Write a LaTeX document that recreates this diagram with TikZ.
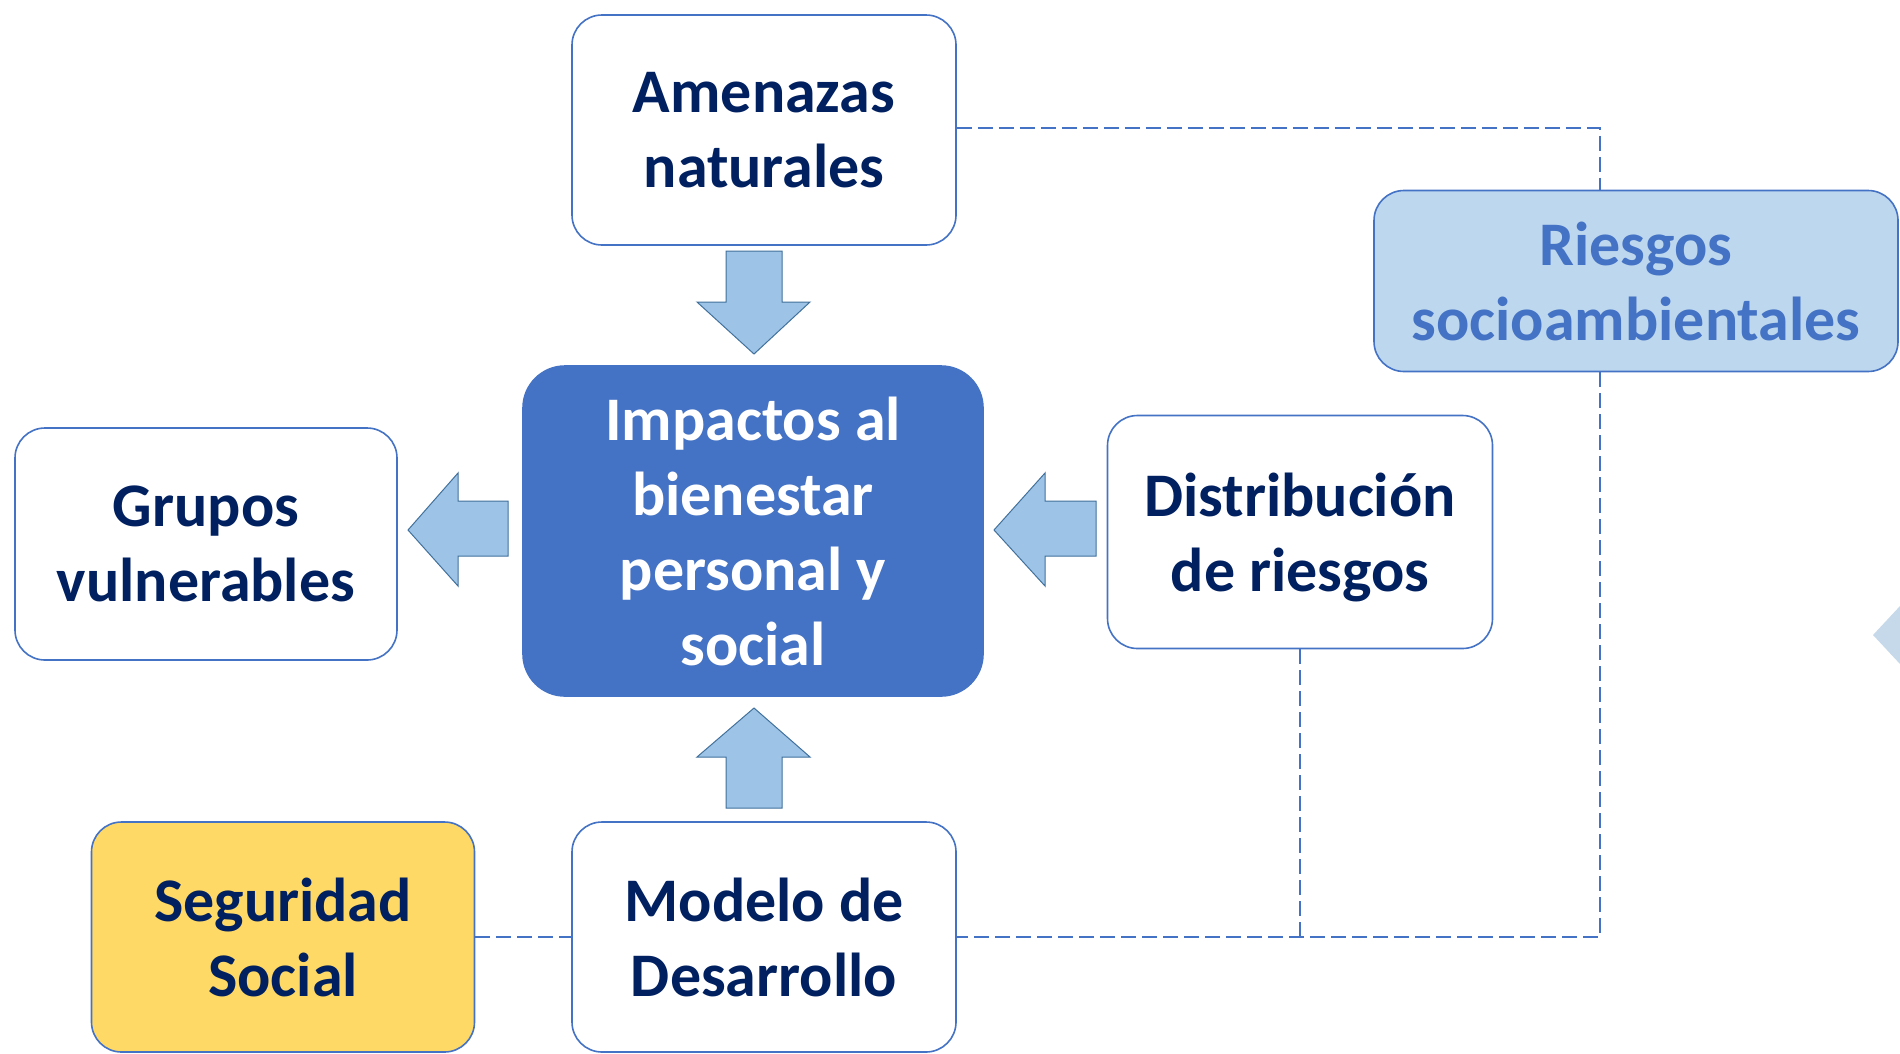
\documentclass[tikz,border=0pt]{standalone}
\usepackage{fontspec}
\setmainfont{Carlito}
\definecolor{navy}{HTML}{002060}
\definecolor{accent}{HTML}{4472C4}
\definecolor{arrowfill}{HTML}{9DC3E6}
\definecolor{arrowline}{HTML}{41719C}
\definecolor{lightfill}{HTML}{BDD7EE}
\definecolor{gold}{HTML}{FFD966}
\definecolor{edgeshape}{HTML}{C5D9EA}
\tikzset{
  box/.style={draw=accent, line width=1.6pt, rounded corners=30pt, fill=white,
    align=center, inner sep=0pt, text=navy,
    font=\fontsize{62}{75}\selectfont\bfseries},
  dashlink/.style={draw=accent, line width=2.2pt, dash pattern=on 15pt off 6pt},
  blockarrow/.style={fill=arrowfill, draw=arrowline, line width=1pt},
}
\begin{document}
\begin{tikzpicture}[x=1pt,y=-1pt]
\useasboundingbox (0,0) rectangle (1900,1053);
\fill[white] (0,0) rectangle (1900,1053);

% partial shape at right edge
\fill[edgeshape] (1900,606) -- (1873,635) -- (1900,664) -- cycle;

\coordinate (c1) at (1600,128);
\coordinate (c2) at (1600,937);
\coordinate (c3) at (1300,937);

% nodes
\node[box, minimum width=384pt, minimum height=230pt] (amen) at (764,130) {Amenazas\\naturales};
\node[box, minimum width=460pt, minimum height=330pt, rounded corners=42pt,
      fill=accent, draw=accent, text=white] (imp) at (753,531) {Impactos al\\bienestar\\personal y\\social};
\node[box, minimum width=382pt, minimum height=232pt] (grup) at (206,544) {Grupos\\vulnerables};
\node[box, minimum width=385pt, minimum height=233pt] (dist) at (1300,532) {};
\node[text=navy, align=center, inner sep=0pt, font=\fontsize{62}{75}\selectfont\bfseries]
      (distlbl) at (1300,537) {Distribución\\de riesgos};
\node[box, minimum width=524pt, minimum height=181pt, fill=lightfill, text=accent] (ries) at (1636,281) {Riesgos\\socioambientales};
\node[box, minimum width=383pt, minimum height=230pt, fill=gold] (seg) at (283,937) {Seguridad\\Social};
\node[box, minimum width=384pt, minimum height=230pt] (mod) at (764,937) {Modelo de\\Desarrollo};

% dashed connectors
\draw[dashlink] (amen.east |- c1) -- (c1) -- (c1 |- ries.north);
\draw[dashlink] (ries.south -| c2) -- (c2) -- (mod.east |- c2);
\draw[dashlink] (dist.south -| c3) -- (c3);
\draw[dashlink] (seg.east) -- (mod.west);

% block arrows
\draw[blockarrow] (726,251) -- (782,251) -- (782,302) -- (810,302) -- (754,354)
  -- (697,302) -- (726,302) -- cycle;
\draw[blockarrow] (726,808) -- (782,808) -- (782,757) -- (810,757) -- (754,708)
  -- (697,757) -- (726,757) -- cycle;
\draw[blockarrow] (508,501) -- (508,556) -- (458,556) -- (458,586) -- (408,530)
  -- (458,473) -- (458,501) -- cycle;
\draw[blockarrow] (1096,501) -- (1096,556) -- (1045,556) -- (1045,586) -- (994,530)
  -- (1045,473) -- (1045,501) -- cycle;
\end{tikzpicture}
\end{document}
